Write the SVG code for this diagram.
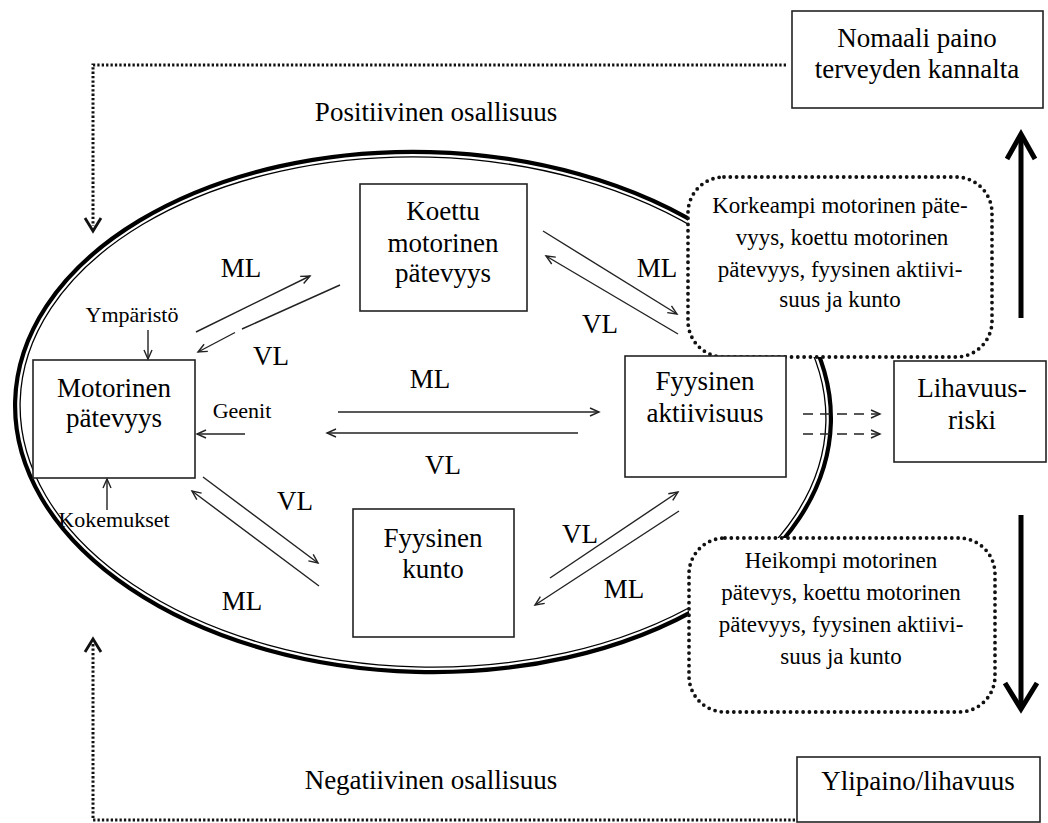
<svg xmlns="http://www.w3.org/2000/svg" width="1048" height="823" viewBox="0 0 1048 823">
<defs>
<style>
.t{font-family:"Liberation Serif","Times New Roman",serif;font-size:27px;fill:#000;text-anchor:middle}
.s{font-family:"Liberation Serif","Times New Roman",serif;font-size:22px;fill:#000;text-anchor:middle}
.d{font-family:"Liberation Serif","Times New Roman",serif;font-size:23px;fill:#000;text-anchor:middle}
.box{fill:#fff;stroke:#222;stroke-width:1.6}
.dbox{fill:#fff;stroke:#111;stroke-width:3.8;stroke-dasharray:0 6.3;stroke-linecap:round}
.c{fill:none;stroke:#222;stroke-width:1.4}
.fb{fill:none;stroke:#111;stroke-width:3;stroke-dasharray:2.3 2.1}
.big{fill:none;stroke:#000;stroke-width:5}
</style>
<marker id="ah" markerUnits="userSpaceOnUse" markerWidth="14" markerHeight="12" refX="11" refY="5" orient="auto" overflow="visible">
<path d="M2,1 L11,5 L2,9" fill="none" stroke="#222" stroke-width="1.4"/>
</marker>
</defs>
<rect width="1048" height="823" fill="#fff"/>

<g id="boundary" transform="rotate(1.5 423 412)">
<ellipse cx="423" cy="412" rx="408" ry="260" fill="none" stroke="#000" stroke-width="4.2"/>
<ellipse cx="423" cy="412" rx="403" ry="255" fill="none" stroke="#000" stroke-width="1.3"/>
</g>

<g id="feedback">
<path class="fb" d="M786,65 H93 V226"/>
<path d="M85,218 L93,231 L101,218" fill="none" stroke="#111" stroke-width="2.8"/>
<path class="fb" d="M795,820 H93 V643"/>
<path d="M85,652 L93,639 L101,652" fill="none" stroke="#111" stroke-width="2.8"/>
</g>

<g id="korkeampi">
<rect class="dbox" x="688" y="177" width="304" height="180" rx="36"/>
<text class="d" x="840" y="213">Korkeampi motorinen päte-</text>
<text class="d" x="842" y="245">vyys, koettu motorinen</text>
<text class="d" x="840" y="277">pätevyys, fyysinen aktiivi-</text>
<text class="d" x="840" y="307">suus ja kunto</text>
</g>

<g id="heikompi">
<rect class="dbox" x="689" y="538" width="306" height="174" rx="36"/>
<text class="d" x="841" y="568">Heikompi motorinen</text>
<text class="d" x="841" y="600">pätevys, koettu motorinen</text>
<text class="d" x="841" y="632">pätevyys, fyysinen aktiivi-</text>
<text class="d" x="841" y="664">suus ja kunto</text>
</g>

<g id="nomaali">
<rect class="box" x="792" y="11" width="251" height="97"/>
<text class="t" x="917" y="47">Nomaali paino</text>
<text class="t" x="917" y="78">terveyden kannalta</text>
</g>

<g id="ylipaino">
<rect class="box" x="797" y="757" width="243" height="65"/>
<text class="t" x="918" y="790">Ylipaino/lihavuus</text>
</g>

<g id="lihavuus">
<rect class="box" x="894" y="361" width="152" height="101"/>
<text class="t" x="972" y="397">Lihavuus-</text>
<text class="t" x="972" y="429">riski</text>
</g>

<g id="motorinen">
<rect class="box" x="33" y="360" width="162" height="118"/>
<text class="t" x="114" y="397">Motorinen</text>
<text class="t" x="114" y="427">pätevyys</text>
</g>

<g id="koettu">
<rect class="box" x="360" y="184" width="167" height="127"/>
<text class="t" x="443" y="220">Koettu</text>
<text class="t" x="443" y="252">motorinen</text>
<text class="t" x="443" y="282">pätevyys</text>
</g>

<g id="aktiivisuus">
<rect class="box" x="625" y="356" width="161" height="121"/>
<text class="t" x="705" y="390">Fyysinen</text>
<text class="t" x="705" y="422">aktiivisuus</text>
</g>

<g id="kunto">
<rect class="box" x="353" y="509" width="161" height="128"/>
<text class="t" x="433" y="547">Fyysinen</text>
<text class="t" x="433" y="578">kunto</text>
</g>

<g id="labels">
<text class="t" x="436" y="121">Positiivinen osallisuus</text>
<text class="t" x="431" y="789">Negatiivinen osallisuus</text>
<text class="s" x="132" y="322">Ympäristö</text>
<text class="s" x="242" y="418">Geenit</text>
<text class="s" x="114" y="527">Kokemukset</text>
<text class="t" x="241" y="277">ML</text>
<text class="t" x="271" y="365">VL</text>
<text class="t" x="657" y="277">ML</text>
<text class="t" x="600" y="333">VL</text>
<text class="t" x="430" y="388">ML</text>
<text class="t" x="443" y="474">VL</text>
<text class="t" x="295" y="510">VL</text>
<text class="t" x="242" y="610">ML</text>
<text class="t" x="580" y="543">VL</text>
<text class="t" x="624" y="598">ML</text>
</g>

<g id="connectors">
<line class="c" x1="196" y1="332" x2="310" y2="276" marker-end="url(#ah)"/>
<line class="c" x1="340" y1="285" x2="242" y2="329"/>
<line class="c" x1="235" y1="332.5" x2="198" y2="352" marker-end="url(#ah)"/>
<line class="c" x1="543" y1="231" x2="677" y2="314" marker-end="url(#ah)"/>
<line class="c" x1="678" y1="334" x2="546" y2="256" marker-end="url(#ah)"/>
<line class="c" x1="338" y1="412" x2="599" y2="412" marker-end="url(#ah)"/>
<line class="c" x1="578" y1="433" x2="327" y2="433" marker-end="url(#ah)"/>
<line class="c" x1="203" y1="477" x2="318" y2="563" marker-end="url(#ah)"/>
<line class="c" x1="319" y1="586" x2="192" y2="491" marker-end="url(#ah)"/>
<line class="c" x1="550" y1="578" x2="678" y2="492" marker-end="url(#ah)"/>
<line class="c" x1="679" y1="511" x2="535" y2="605" marker-end="url(#ah)"/>
<line class="c" x1="148" y1="330" x2="148" y2="359" marker-end="url(#ah)"/>
<line class="c" x1="245" y1="434" x2="197" y2="434" marker-end="url(#ah)"/>
<line class="c" x1="107" y1="510" x2="107" y2="479" marker-end="url(#ah)"/>
<line class="c" x1="803" y1="414" x2="880" y2="414" stroke-dasharray="10 7" marker-end="url(#ah)"/>
<line class="c" x1="803" y1="434" x2="880" y2="434" stroke-dasharray="10 7" marker-end="url(#ah)"/>
<line class="big" x1="1021" y1="318" x2="1021" y2="135"/>
<path class="big" d="M1007,159 L1021,134 L1035,159"/>
<line class="big" x1="1021" y1="515" x2="1021" y2="708"/>
<path class="big" d="M1005,683 L1021,709 L1037,683"/>
</g>
</svg>
